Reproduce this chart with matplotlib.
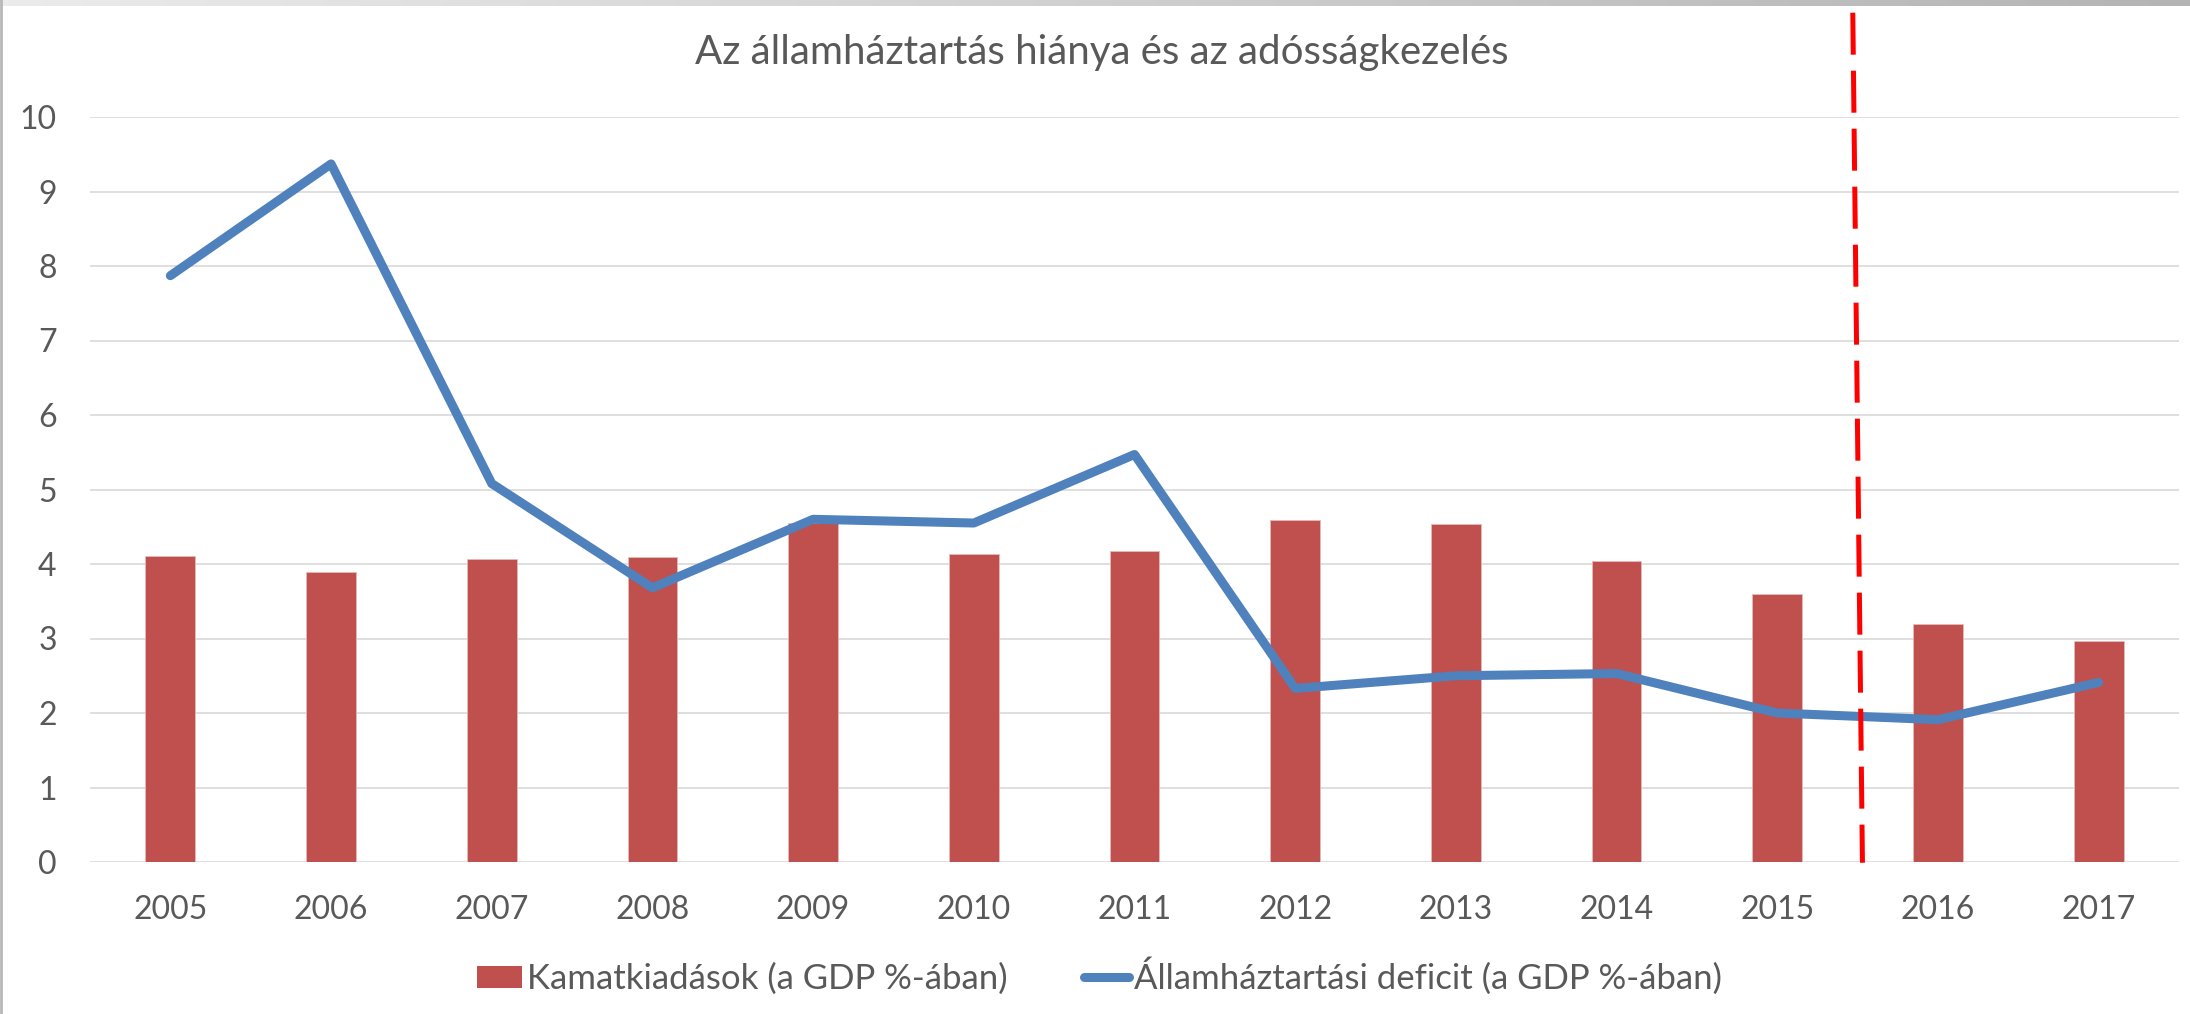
import numpy as np
import matplotlib
matplotlib.use("Agg")
import matplotlib.pyplot as plt
from matplotlib.lines import Line2D
from matplotlib.patches import Patch

plt.rcParams['font.family'] = ['Lato', 'DejaVu Sans']

# adatok
years = ['2005', '2006', '2007', '2008', '2009', '2010', '2011',
         '2012', '2013', '2014', '2015', '2016', '2017']
kamat = [4.11, 3.89, 4.07, 4.09, 4.55, 4.14, 4.17, 4.59, 4.54, 4.04, 3.60, 3.20, 2.96]
deficit = [7.87, 9.37, 5.08, 3.68, 4.60, 4.55, 5.47, 2.33, 2.50, 2.53, 2.00, 1.91, 2.41]
y_ticks = [0, 1, 2, 3, 4, 5, 6, 7, 8, 9, 10]

title = 'Az államháztartás hiánya és az adósságkezelés'
label_bar = 'Kamatkiadások (a GDP %-ában)'
label_line = 'Államháztartási deficit (a GDP %-ában)'

# elválasztó vonal (2015 és 2016 között)
sep_x = [10.47, 10.53]
sep_y = [11.4, -0.01]

bar_color = '#C0504D'
line_color = '#4F81BD'
text_color = '#595959'
grid_color = '#D9D9D9'

W, H = 2190, 1014
fig = plt.figure(figsize=(W / 100, H / 100), dpi=100)

# keret: felső szürke sáv és bal oldali szegély
top = fig.add_axes([0, 1 - 6 / H, 1, 6 / H])
grad = np.linspace(0, 1, 256).reshape(1, -1)
top.imshow(grad, aspect='auto', cmap=matplotlib.colors.LinearSegmentedColormap.from_list(
    'g', ['#EBEBEB', '#B4B4B4']))
top.axis('off')
fig.add_artist(Line2D([1 / W, 1 / W], [0, 1], color='#B8B8B8', lw=2, transform=fig.transFigure))

ax = fig.add_axes([90 / W, 152 / H, 2089 / W, 745 / H])
x = np.arange(len(years))

ax.bar(x, kamat, width=0.31, color=bar_color, edgecolor='#E6B9B8', linewidth=0.6, zorder=2)
ax.plot(x, deficit, color=line_color, lw=6.5, solid_capstyle='round',
        solid_joinstyle='round', zorder=3)

ax.set_xlim(-0.5, len(years) - 0.5)
ax.set_ylim(0, 10)
ax.set_yticks(y_ticks)
ax.set_xticks(x)
ax.set_xticklabels(years)
ax.tick_params(axis='both', length=0, labelsize=23, labelcolor=text_color)
ax.tick_params(axis='x', pad=24)
ax.tick_params(axis='y', pad=24)
ax.grid(axis='y', color=grid_color, lw=1.2, zorder=0)
ax.set_axisbelow(True)
for s in ax.spines.values():
    s.set_visible(False)

ax.add_line(Line2D(sep_x, sep_y, color='#FF0000', lw=3.6, dashes=(8.4, 3.2),
                   clip_on=False, zorder=4))

fig.text(0.503, 1 - 64 / H, title, ha='center', va='baseline', fontsize=29, color=text_color)

handles = [Patch(facecolor=bar_color, edgecolor='none'),
           Line2D([], [], color=line_color, lw=6.5, solid_capstyle='round')]
fig.legend(handles, [label_bar, label_line], loc='center', bbox_to_anchor=(0.502, 38 / H),
           ncol=2, frameon=False, fontsize=25, labelcolor=text_color,
           handlelength=1.3, handleheight=0.6, handletextpad=0.15, columnspacing=2.2)

fig.savefig('out.png', dpi=100)
